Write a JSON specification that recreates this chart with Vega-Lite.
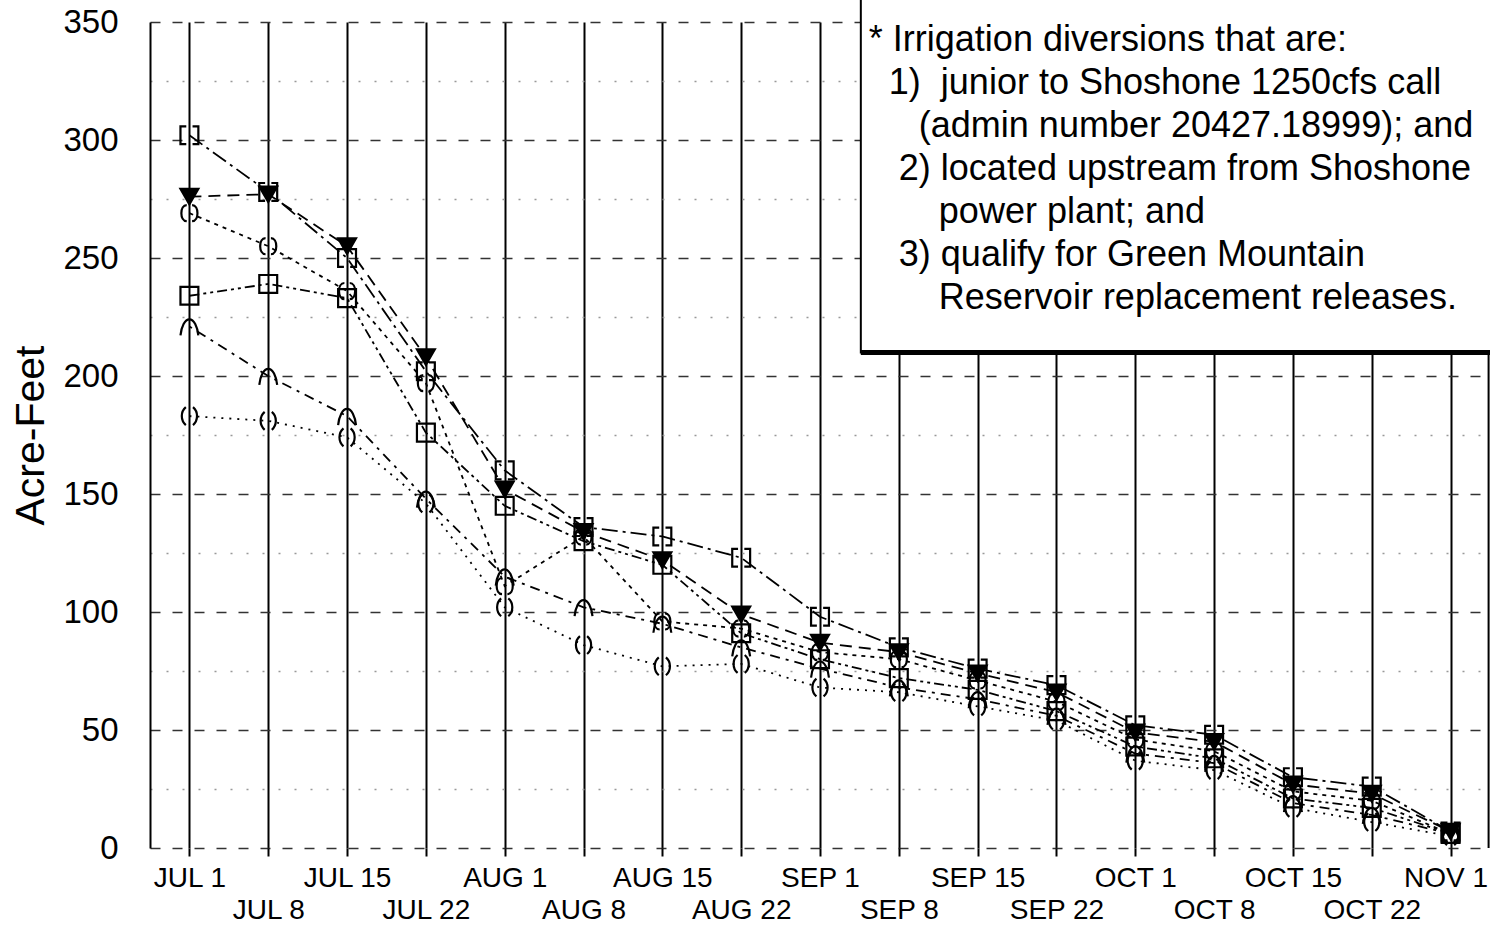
{
  "$schema": "https://vega.github.io/schema/vega-lite/v6.json",
  "width": 1340,
  "height": 826,
  "autosize": {"type": "none"},
  "padding": {"left": 150, "top": 22, "right": 0, "bottom": 79},
  "background": "white",
  "config": {"view": {"stroke": null}, "font": "Liberation Sans"},
  "data": {"values": [
    {"date":"JUL 1","series":"A","acreFeet":302},{"date":"JUL 8","series":"A","acreFeet":278},{"date":"JUL 15","series":"A","acreFeet":250},{"date":"JUL 22","series":"A","acreFeet":202},{"date":"AUG 1","series":"A","acreFeet":160},{"date":"AUG 8","series":"A","acreFeet":136},{"date":"AUG 15","series":"A","acreFeet":132},{"date":"AUG 22","series":"A","acreFeet":123},{"date":"SEP 1","series":"A","acreFeet":98},{"date":"SEP 8","series":"A","acreFeet":85},{"date":"SEP 15","series":"A","acreFeet":76},{"date":"SEP 22","series":"A","acreFeet":69},{"date":"OCT 1","series":"A","acreFeet":52},{"date":"OCT 8","series":"A","acreFeet":48},{"date":"OCT 15","series":"A","acreFeet":30},{"date":"OCT 22","series":"A","acreFeet":26},{"date":"NOV 1","series":"A","acreFeet":7},
    {"date":"JUL 1","series":"B","acreFeet":276},{"date":"JUL 8","series":"B","acreFeet":277},{"date":"JUL 15","series":"B","acreFeet":255},{"date":"JUL 22","series":"B","acreFeet":208},{"date":"AUG 1","series":"B","acreFeet":152},{"date":"AUG 8","series":"B","acreFeet":134},{"date":"AUG 15","series":"B","acreFeet":122},{"date":"AUG 22","series":"B","acreFeet":99},{"date":"SEP 1","series":"B","acreFeet":87},{"date":"SEP 8","series":"B","acreFeet":83},{"date":"SEP 15","series":"B","acreFeet":74},{"date":"SEP 22","series":"B","acreFeet":66},{"date":"OCT 1","series":"B","acreFeet":49},{"date":"OCT 8","series":"B","acreFeet":45},{"date":"OCT 15","series":"B","acreFeet":27},{"date":"OCT 22","series":"B","acreFeet":23},{"date":"NOV 1","series":"B","acreFeet":7},
    {"date":"JUL 1","series":"C","acreFeet":269},{"date":"JUL 8","series":"C","acreFeet":255},{"date":"JUL 15","series":"C","acreFeet":236},{"date":"JUL 22","series":"C","acreFeet":197},{"date":"AUG 1","series":"C","acreFeet":111},{"date":"AUG 8","series":"C","acreFeet":132},{"date":"AUG 15","series":"C","acreFeet":96},{"date":"AUG 22","series":"C","acreFeet":93},{"date":"SEP 1","series":"C","acreFeet":83},{"date":"SEP 8","series":"C","acreFeet":80},{"date":"SEP 15","series":"C","acreFeet":71},{"date":"SEP 22","series":"C","acreFeet":62},{"date":"OCT 1","series":"C","acreFeet":46},{"date":"OCT 8","series":"C","acreFeet":41},{"date":"OCT 15","series":"C","acreFeet":24},{"date":"OCT 22","series":"C","acreFeet":20},{"date":"NOV 1","series":"C","acreFeet":6},
    {"date":"JUL 1","series":"D","acreFeet":234},{"date":"JUL 8","series":"D","acreFeet":239},{"date":"JUL 15","series":"D","acreFeet":233},{"date":"JUL 22","series":"D","acreFeet":176},{"date":"AUG 1","series":"D","acreFeet":145},{"date":"AUG 8","series":"D","acreFeet":130},{"date":"AUG 15","series":"D","acreFeet":120},{"date":"AUG 22","series":"D","acreFeet":91},{"date":"SEP 1","series":"D","acreFeet":80},{"date":"SEP 8","series":"D","acreFeet":72},{"date":"SEP 15","series":"D","acreFeet":67},{"date":"SEP 22","series":"D","acreFeet":58},{"date":"OCT 1","series":"D","acreFeet":43},{"date":"OCT 8","series":"D","acreFeet":38},{"date":"OCT 15","series":"D","acreFeet":21},{"date":"OCT 22","series":"D","acreFeet":17},{"date":"NOV 1","series":"D","acreFeet":6},
    {"date":"JUL 1","series":"E","acreFeet":221},{"date":"JUL 8","series":"E","acreFeet":200},{"date":"JUL 15","series":"E","acreFeet":183},{"date":"JUL 22","series":"E","acreFeet":148},{"date":"AUG 1","series":"E","acreFeet":115},{"date":"AUG 8","series":"E","acreFeet":102},{"date":"AUG 15","series":"E","acreFeet":95},{"date":"AUG 22","series":"E","acreFeet":85},{"date":"SEP 1","series":"E","acreFeet":76},{"date":"SEP 8","series":"E","acreFeet":68},{"date":"SEP 15","series":"E","acreFeet":63},{"date":"SEP 22","series":"E","acreFeet":56},{"date":"OCT 1","series":"E","acreFeet":40},{"date":"OCT 8","series":"E","acreFeet":36},{"date":"OCT 15","series":"E","acreFeet":19},{"date":"OCT 22","series":"E","acreFeet":14},{"date":"NOV 1","series":"E","acreFeet":6},
    {"date":"JUL 1","series":"F","acreFeet":183},{"date":"JUL 8","series":"F","acreFeet":181},{"date":"JUL 15","series":"F","acreFeet":174},{"date":"JUL 22","series":"F","acreFeet":146},{"date":"AUG 1","series":"F","acreFeet":102},{"date":"AUG 8","series":"F","acreFeet":86},{"date":"AUG 15","series":"F","acreFeet":77},{"date":"AUG 22","series":"F","acreFeet":78},{"date":"SEP 1","series":"F","acreFeet":68},{"date":"SEP 8","series":"F","acreFeet":66},{"date":"SEP 15","series":"F","acreFeet":60},{"date":"SEP 22","series":"F","acreFeet":54},{"date":"OCT 1","series":"F","acreFeet":37},{"date":"OCT 8","series":"F","acreFeet":33},{"date":"OCT 15","series":"F","acreFeet":17},{"date":"OCT 22","series":"F","acreFeet":11},{"date":"NOV 1","series":"F","acreFeet":5}
  ]},
  "encoding": {
    "x": {
      "field": "date", "type": "ordinal",
      "scale": {"type": "point", "padding": 0.5, "domain": ["JUL 1","JUL 8","JUL 15","JUL 22","AUG 1","AUG 8","AUG 15","AUG 22","SEP 1","SEP 8","SEP 15","SEP 22","OCT 1","OCT 8","OCT 15","OCT 22","NOV 1"]},
      "axis": {
        "title": null, "domain": false, "grid": true, "gridColor": "black", "gridWidth": 2, "gridOpacity": 1,
        "ticks": true, "tickSize": 8, "tickColor": "black", "tickWidth": 2,
        "labelFont": "Liberation Sans", "labelFontSize": 28, "labelColor": "black",
        "labelPadding": 8, "labelBaseline": "top", "labelLineHeight": 32, "labelAngle": 0, "labelOverlap": false,
        "labelOffset": {"condition": {"test": "datum.value == 'NOV 1'", "value": -5}, "value": 0},
        "labelExpr": "indexof(['JUL 8','JUL 22','AUG 8','AUG 22','SEP 8','SEP 22','OCT 8','OCT 22'], datum.value) >= 0 ? ['', datum.label] : datum.label"
      }
    },
    "y": {
      "field": "acreFeet", "type": "quantitative",
      "scale": {"domain": [0, 350], "nice": false},
      "axis": {
        "title": "Acre-Feet", "titleFont": "Liberation Sans", "titleFontSize": 41, "titleFontWeight": "normal", "titleColor": "black", "titlePadding": 10,
        "values": [0,25,50,75,100,125,150,175,200,225,250,275,300,325,350],
        "labelExpr": "datum.value % 50 == 0 ? datum.label : ''",
        "labelFont": "Liberation Sans", "labelFontSize": 33, "labelColor": "black", "labelPadding": 32,
        "ticks": false, "domain": true, "domainColor": "black", "domainWidth": 2,
        "grid": true, "gridWidth": 1.5,
        "gridColor": {"condition": {"test": "datum.value % 50 == 0", "value": "#333333"}, "value": "#999999"},
        "gridDash": {"condition": {"test": "datum.value % 50 == 0", "value": [10, 12]}, "value": [2, 14]}
      }
    }
  },
  "layer": [
    {
      "mark": {"type": "line", "color": "black", "strokeWidth": 1.8},
      "encoding": {
        "detail": {"field": "series", "type": "nominal"},
        "strokeDash": {"field": "series", "type": "nominal", "legend": null,
          "scale": {"domain": ["A","B","C","D","E","F"], "range": [[16,5,3,5], [12,7], [4,5], [10,4,3,4,3,4], [3,6,10,6], [2,6]]}}
      }
    },
    {
      "mark": {"type": "point", "filled": true, "stroke": "black", "strokeWidth": 2.2, "size": 320, "opacity": 1},
      "encoding": {
        "shape": {"field": "series", "type": "nominal", "legend": null,
          "scale": {"domain": ["A","B","C","D","E","F"], "range": [
            "M-0.35,-1 L-1,-1 L-1,1 L-0.35,1 M0.35,-1 L1,-1 L1,1 L0.35,1",
            "triangle-down",
            "M-0.3,-0.9 C-1.1,-0.9 -1.1,0.9 -0.3,0.9 M0.3,-0.9 C1.1,-0.9 1.1,0.9 0.3,0.9",
            "square",
            "M-1,1 C-0.9,0 -0.5,-0.8 0,-0.8 C0.5,-0.8 0.9,0 1,1",
            "M-0.4,-1 C-1,-0.5 -1,0.5 -0.4,1 M0.4,-1 C1,-0.5 1,0.5 0.4,1"
          ]}},
        "fill": {"field": "series", "type": "nominal", "legend": null,
          "scale": {"domain": ["A","B","C","D","E","F"], "range": ["transparent","black","transparent","transparent","transparent","transparent"]}}
      }
    },
    {
      "transform": [{"filter": "datum.series == 'A' && datum.date == 'NOV 1'"}],
      "mark": {"type": "rule", "color": "black", "strokeWidth": 2, "xOffset": 38},
      "encoding": {
        "x": {"datum": "NOV 1", "type": "ordinal"},
        "y": {"datum": 0, "type": "quantitative"},
        "y2": {"datum": 210}
      }
    },
    {
      "transform": [{"filter": "datum.series == 'A' && datum.date == 'NOV 1'"}],
      "mark": {"type": "rect", "fill": "white", "stroke": "black", "strokeWidth": 2, "xOffset": -38, "x2Offset": 80, "yOffset": -40},
      "encoding": {
        "x": {"datum": "SEP 8", "type": "ordinal"},
        "x2": {"datum": "NOV 1"},
        "y": {"datum": 350, "type": "quantitative"},
        "y2": {"datum": 210}
      }
    },
    {
      "transform": [{"filter": "datum.series == 'A' && datum.date == 'NOV 1'"}],
      "mark": {"type": "rule", "color": "black", "strokeWidth": 5, "xOffset": -38, "x2Offset": 80},
      "encoding": {
        "x": {"datum": "SEP 8", "type": "ordinal"},
        "x2": {"datum": "NOV 1"},
        "y": {"datum": 210, "type": "quantitative"}
      }
    },
    {
      "transform": [{"filter": "datum.series == 'A' && datum.date == 'NOV 1'"}],
      "mark": {"type": "text", "align": "left", "baseline": "top", "font": "Liberation Sans", "fontSize": 36, "lineHeight": 43, "color": "black", "xOffset": -30, "dy": 1},
      "encoding": {
        "x": {"datum": "SEP 8", "type": "ordinal"},
        "y": {"datum": 350, "type": "quantitative"},
        "text": {"value": [
          "* Irrigation diversions that are:",
          "\u200b\u00a0\u00a01)\u00a0\u00a0junior to Shoshone 1250cfs call",
          "\u200b\u00a0\u00a0\u00a0\u00a0\u00a0(admin number 20427.18999); and",
          "\u200b\u00a0\u00a0\u00a02) located upstream from Shoshone",
          "\u200b\u00a0\u00a0\u00a0\u00a0\u00a0\u00a0\u00a0power plant; and",
          "\u200b\u00a0\u00a0\u00a03) qualify for Green Mountain",
          "\u200b\u00a0\u00a0\u00a0\u00a0\u00a0\u00a0\u00a0Reservoir replacement releases."
        ]}
      }
    }
  ]
}
